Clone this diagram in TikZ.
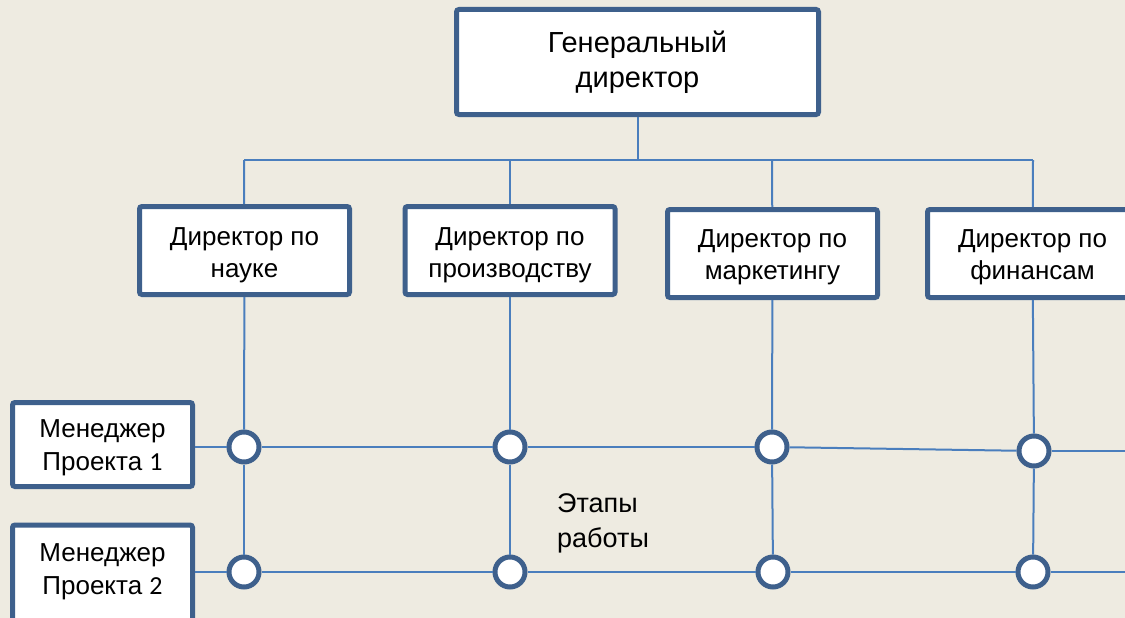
\documentclass[tikz,border=0pt]{standalone}
\usepackage{fontspec}
\setmainfont{Liberation Sans}
\newfontfamily\digfont{Carlito}
\definecolor{bg}{HTML}{EEEBE1}
\definecolor{boxline}{HTML}{3E608C}
\definecolor{conn}{HTML}{4A7EBD}
\tikzset{
  orgbox/.style={draw=boxline, line width=5pt, fill=white, rounded corners=2.5pt, align=center, inner sep=0pt},
  topbox/.style={orgbox, minimum width=362pt, minimum height=105pt, font=\fontsize{29}{35}\selectfont},
  dirbox/.style={orgbox, minimum width=210pt, minimum height=88pt},
  dirtext/.style={align=center, inner sep=0pt, font=\fontsize{26}{32}\selectfont},
  mgrbox/.style={orgbox, minimum width=180pt, minimum height=84pt},
  mgrtext/.style={align=center, inner sep=0pt, font=\fontsize{26}{33}\selectfont},
  stage/.style={circle, draw=boxline, line width=5pt, fill=white, minimum size=30pt, inner sep=0pt},
  wire/.style={draw=conn, line width=2pt}
}
\begin{document}
\begin{tikzpicture}[x=1pt,y=-1pt]
\fill[bg] (0,0) rectangle (1125,618);
\useasboundingbox (0,0) rectangle (1125,618);
\clip (0,0) rectangle (1125,618);

\node[topbox] (top) at (637.5,62) {Генеральный\\директор};

\coordinate (b1) at (244,160);
\coordinate (b2) at (510,160);
\coordinate (b3) at (772,160);
\coordinate (b4) at (1033,160);

\node[dirbox] (d1) at (244.5,250.5) {};
\node[dirtext] (d1t) at (244.5,255) {Директор по\\науке};
\node[dirbox] (d2) at (510,250.5) {};
\node[dirtext] (d2t) at (510,255) {Директор по\\производству};
\node[dirbox] (d3) at (772.5,253.5) {};
\node[dirtext] (d3t) at (772.5,257) {Директор по\\маркетингу};
\node[dirbox] (d4) at (1032.5,253.5) {};
\node[dirtext] (d4t) at (1032.5,257) {Директор по\\финансам};

\node[mgrbox] (m1) at (102.5,444.5) {};
\node[mgrtext] (m1t) at (102.5,448) {Менеджер\\Проекта {\digfont 1}};
\node[mgrbox, minimum height=104pt] (m2) at (102.5,577) {};
\node[mgrtext] (m2t) at (102.5,572) {Менеджер\\Проекта {\digfont 2}};

\node[stage] (c11) at (244,447) {};
\node[stage] (c12) at (510,447) {};
\node[stage] (c13) at (772,447) {};
\node[stage] (c14) at (1034,451) {};
\node[stage] (c21) at (244,572) {};
\node[stage] (c22) at (510,572) {};
\node[stage] (c23) at (773,572) {};
\node[stage] (c24) at (1033,572) {};

\coordinate (e1) at (1130,451);
\coordinate (e2) at (1130,572);

\node[font=\fontsize{27}{35}\selectfont, align=left, anchor=north west, inner sep=0pt] (lbl) at (557,493) {Этапы\\работы};

% connectors
\draw[wire] (top) -- (top.south |- b1);
\draw[wire] (b1) -- (b4);
\draw[wire] (b1) -- (d1);
\draw[wire] (b2) -- (d2);
\draw[wire] (b3) -- (d3);
\draw[wire] (b4) -- (d4);
\draw[wire] (d1) -- (c11);
\draw[wire] (d2) -- (c12);
\draw[wire] (d3) -- (c13);
\draw[wire] (d4) -- (c14);
\draw[wire] (c11) -- (c21);
\draw[wire] (c12) -- (c22);
\draw[wire] (c13) -- (c23);
\draw[wire] (c14) -- (c24);
\draw[wire] (m1.east |- c11) -- (c11);
\draw[wire] (c11) -- (c12);
\draw[wire] (c12) -- (c13);
\draw[wire] (c13) -- (c14);
\draw[wire] (c14) -- (e1);
\draw[wire] (m2.east |- c21) -- (c21);
\draw[wire] (c21) -- (c22);
\draw[wire] (c22) -- (c23);
\draw[wire] (c23) -- (c24);
\draw[wire] (c24) -- (e2);
\end{tikzpicture}
\end{document}
